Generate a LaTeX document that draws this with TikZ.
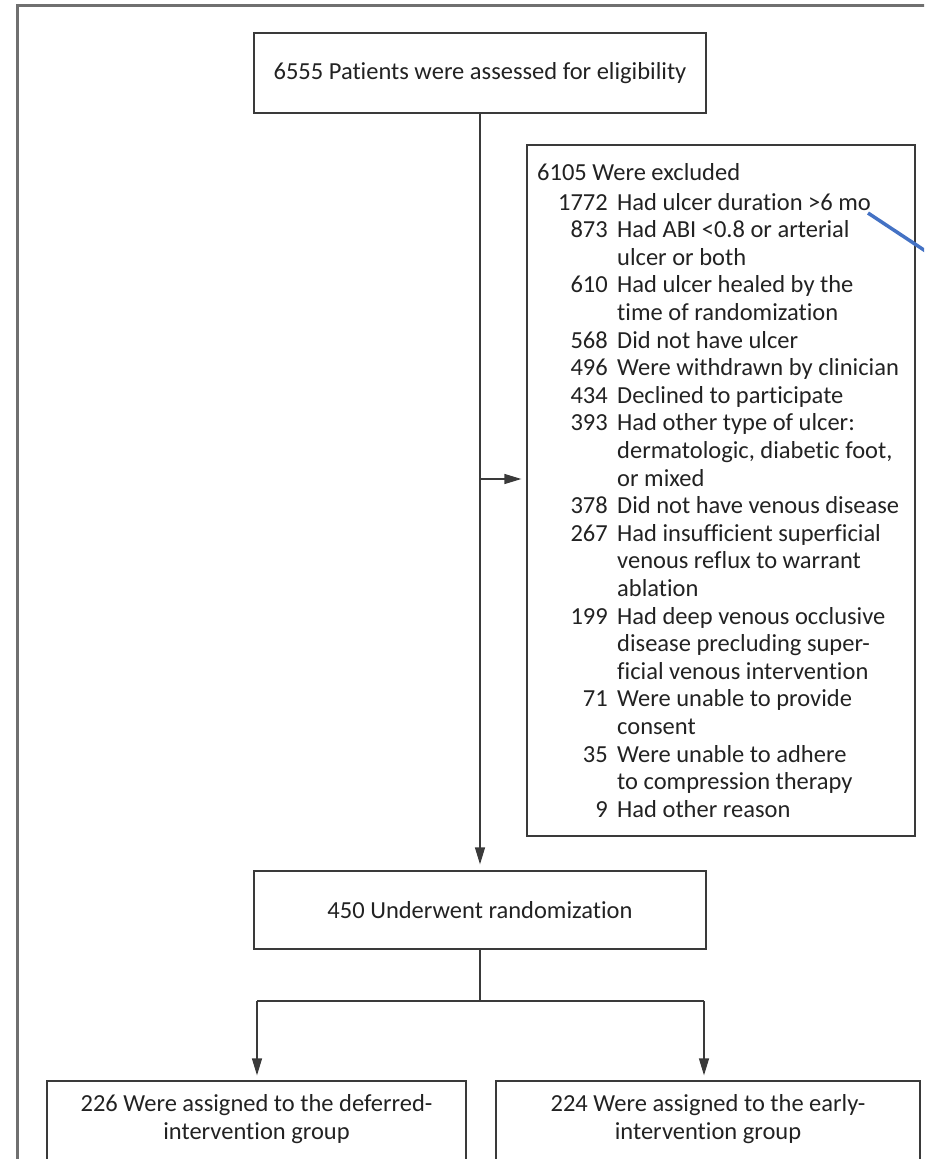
\documentclass[tikz,border=0pt]{standalone}
\usepackage{fontspec}
\setmainfont{Carlito}[Ligatures=NoCommon]
\usetikzlibrary{arrows.meta}
\definecolor{framec}{HTML}{707070}
\definecolor{boxc}{HTML}{3A3A3A}
\definecolor{txtc}{HTML}{222222}
\definecolor{bluec}{RGB}{68,114,196}
\newcommand{\fsz}{\fontsize{24.5}{27.6}\selectfont}
\tikzset{
  box/.style={draw=boxc, line width=1.3pt, inner sep=0pt},
  lbl/.style={font=\fsz, text=txtc, inner sep=0pt},
  conn/.style={draw=boxc, line width=1.3pt},
  arr/.style={conn, -{Triangle[length=17pt,width=10pt]}},
}
\begin{document}
\begin{tikzpicture}[x=1pt,y=1pt]
\useasboundingbox (0,0) rectangle (924,-1159);
\clip (0,0) rectangle (924,-1159);
% outer frame
\draw[framec, line width=3.5pt] (17.5,-1170) -- (17.5,-5.5) -- (940,-5.5);
% boxes
\node[box, minimum width=452pt, minimum height=80pt] (top) at (480,-73) {};
\node[lbl] (toptxt) at (480,-73) {6555 Patients were assessed for eligibility};
\node[box, minimum width=388pt, minimum height=691pt] (excl) at (721,-490.5) {};
\node[box, minimum width=452pt, minimum height=78pt] (rand) at (480,-910) {};
\node[lbl] (randtxt) at (480,-910) {450 Underwent randomization};
\node[box, minimum width=419pt, minimum height=120pt] (left) at (256.5,-1141) {};
\node[lbl, align=center] (lefttxt) at (256.5,-1119) {226 Were assigned to the deferred-\\intervention group};
\node[box, minimum width=424pt, minimum height=120pt] (right) at (708,-1141) {};
\node[lbl, align=center] (righttxt) at (708,-1119) {224 Were assigned to the early-\\intervention group};
% exclusion list
\node[lbl, anchor=base west] (exhead) at (537,-180) {6105 Were excluded};
\foreach \k/\n in {2/1772,3/873,5/610,7/568,8/496,9/434,10/393,13/378,14/267,17/199,20/71,22/35,24/9}{
  \node[lbl, anchor=base east] (num\k) at (608,{-210-(\k-2)*27.6}) {\n};
}
\foreach \k/\t in {2/{Had ulcer duration >6 mo},3/{Had ABI <0.8 or arterial},4/{ulcer or both},
  5/{Had ulcer healed by the},6/{time of randomization},7/{Did not have ulcer},
  8/{Were withdrawn by clinician},9/{Declined to participate},10/{Had other type of ulcer:},
  11/{dermatologic, diabetic foot,},12/{or mixed},13/{Did not have venous disease},
  14/{Had insufficient superficial},15/{venous reflux to warrant},16/{ablation},
  17/{Had deep venous occlusive},18/{disease precluding super-},19/{ficial venous intervention},
  20/{Were unable to provide},21/{consent},22/{Were unable to adhere},
  23/{to compression therapy},24/{Had other reason}}{
  \node[lbl, anchor=base west] (txt\k) at (617,{-210-(\k-2)*27.6}) {\t};
}
% connectors
\draw[arr, shorten >=6pt] (top.south) -- (rand.north);
\coordinate (br) at (480,-479);
\draw[arr, shorten >=5pt] (br) -- (br -| excl.west);
\coordinate (lsplit) at (257,-1001);
\coordinate (rsplit) at (704,-1001);
\draw[conn] (rand.south) -- (rand.south |- lsplit);
\draw[conn] (lsplit) -- (rsplit);
\draw[arr, shorten >=5pt] (lsplit) -- (lsplit |- left.north);
\draw[arr, shorten >=5pt] (rsplit) -- (rsplit |- right.north);
% blue pointer line
\coordinate (bstart) at (868,-213);
\coordinate (bend) at (930,-254);
\draw[bluec, line width=3.5pt] (bstart) -- (bend);
\end{tikzpicture}
\end{document}
